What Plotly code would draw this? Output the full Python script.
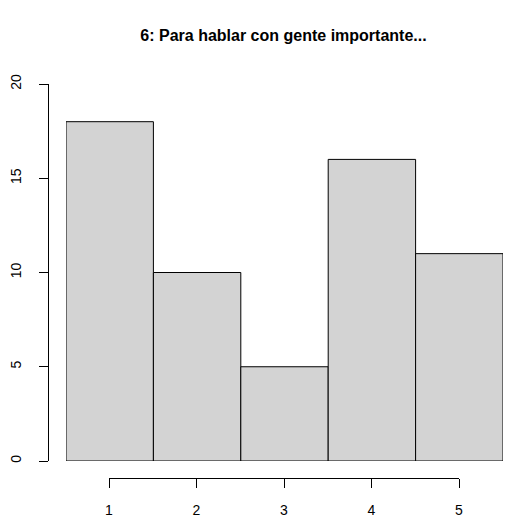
import plotly.graph_objects as go

categories = [1, 2, 3, 4, 5]
counts = [18, 10, 5, 16, 11]
y_ticks = [0, 5, 10, 15, 20]
title_text = "6: Para hablar con gente importante..."

W, H = 506, 515
FONT = "Liberation Sans, Arial, sans-serif"


def px(v):
    return v / W


def py(v):
    return 1 - v / H


fig = go.Figure()
fig.add_trace(go.Bar(
    x=categories, y=counts, width=1,
    marker=dict(color="#D3D3D3", line=dict(color="black", width=1)),
    xaxis="x", yaxis="y", hoverinfo="skip", showlegend=False,
))
fig.add_trace(go.Scatter(
    x=categories, y=[None] * len(categories), mode="markers",
    xaxis="x2", yaxis="y", hoverinfo="skip", showlegend=False,
))

fig.update_layout(
    width=W, height=H,
    margin=dict(l=0, r=0, t=0, b=0, autoexpand=False),
    paper_bgcolor="white", plot_bgcolor="rgba(0,0,0,0)",
    bargap=0,
    font=dict(family=FONT, color="black", size=13),
    title=dict(text="<b>" + title_text + "</b>", x=px(283.5), xanchor="center",
               xref="paper", yref="paper",
               y=py(35), yanchor="middle", automargin=False,
               font=dict(size=16, family=FONT, color="black")),
    xaxis=dict(domain=[px(66), px(503)], range=[0.5, 5.5], visible=False,
               showgrid=False, zeroline=False, anchor="y", automargin=False),
    xaxis2=dict(domain=[px(109), px(459)], range=[1, 5], anchor="free",
                position=py(477.5), showline=True, linecolor="black",
                linewidth=1, ticks="outside", ticklen=9, tickcolor="black",
                tickvals=categories, ticktext=[str(c) for c in categories],
                ticklabelstandoff=11, showgrid=False, zeroline=False,
                automargin=False,
                tickfont=dict(size=14, family=FONT, color="black")),
    yaxis=dict(domain=[py(461), py(84)], range=[0, 20], anchor="free",
               position=px(47.5), showline=True, linecolor="black", linewidth=1,
               ticks="outside", ticklen=9, tickcolor="black",
               tickvals=y_ticks, ticktext=[str(v) for v in y_ticks],
               tickangle=-90, ticklabelstandoff=12, showgrid=False,
               zeroline=False, automargin=False,
               tickfont=dict(size=14, family=FONT, color="black")),
)

fig.write_html(
    "out.html",
    config={"displayModeBar": False, "staticPlot": True},
    post_script="document.body.style.margin='0';document.body.style.overflow='hidden';",
)
